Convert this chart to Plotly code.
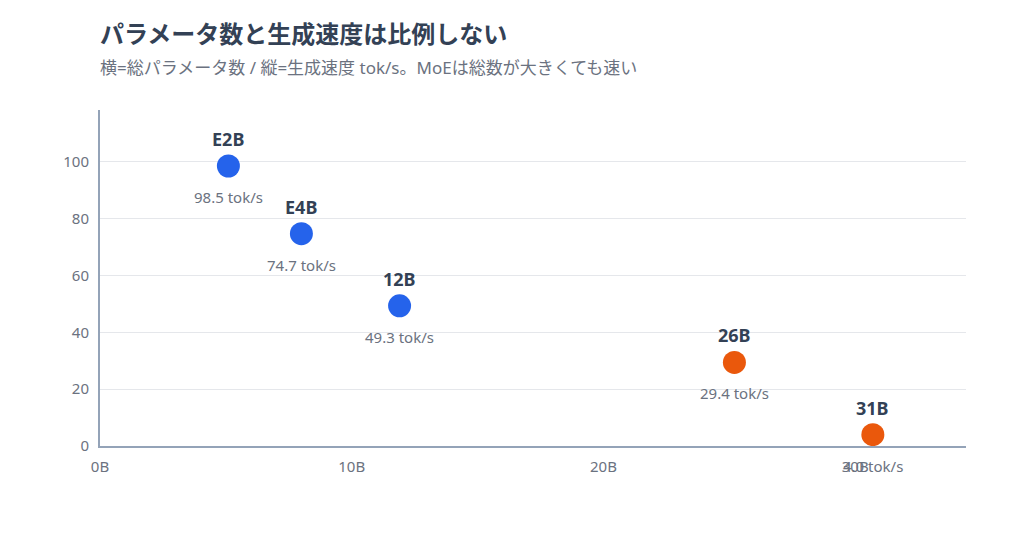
import plotly.graph_objects as go

models = ["E2B", "E4B", "12B", "26B", "31B"]
total_params_b = [5.1, 8.0, 11.9, 25.2, 30.7]
tok_per_s = [98.5, 74.7, 49.3, 29.4, 4.0]
is_moe = [False, False, False, True, True]

x_ticks = [0, 10, 20, 30]
x_tick_labels = ["0B", "10B", "20B", "30B"]
y_ticks = [0, 20, 40, 60, 80, 100]

BLUE = "#2563eb"
ORANGE = "#ea580c"
FONT = "Noto Sans, Noto Sans CJK JP, sans-serif"

colors = [ORANGE if m else BLUE for m in is_moe]

fig = go.Figure()
fig.add_trace(go.Scatter(
    x=total_params_b, y=tok_per_s, mode="markers",
    marker=dict(size=23, color=colors),
    hoverinfo="skip", showlegend=False,
))

# model name above, speed below each point
for name, x, y in zip(models, total_params_b, tok_per_s):
    fig.add_annotation(x=x, y=y, text="<b>" + name + "</b>", showarrow=False,
                       yshift=27, font=dict(size=18, color="#334155", family=FONT))
    fig.add_annotation(x=x, y=y, text=f"{y:.1f} tok/s", showarrow=False,
                       yshift=-31, font=dict(size=15, color="#6b7280", family=FONT))

# page body has an 8px margin, so margins are shifted by 8
fig.update_layout(
    width=1024, height=540,
    margin=dict(l=92, r=66, t=102, b=102),
    paper_bgcolor="white", plot_bgcolor="white",
    font=dict(family=FONT, color="#6b7280", size=15),
    title=dict(
        text="<b>パラメータ数と生成速度は比例しない</b>"
             "<br><span style='font-size:17px;color:#6b7280'>"
             "横=総パラメータ数 / 縦=生成速度 tok/s。MoEは総数が大きくても速い</span>",
        x=92 / 1024, xanchor="left", y=0.935, yanchor="top",
        font=dict(size=24, color="#334155", family=FONT),
    ),
)
fig.update_xaxes(
    range=[0, 34.4], tickvals=x_ticks, ticktext=x_tick_labels,
    showgrid=False, zeroline=False, showline=True, linecolor="#94a3b8", linewidth=2,
    ticklabelstandoff=6, tickfont=dict(size=15, color="#6b7280"),
)
fig.update_yaxes(
    range=[0, 118.2], tickvals=y_ticks,
    showgrid=True, gridcolor="#e5e7eb", zeroline=False,
    showline=True, linecolor="#94a3b8", linewidth=2,
    ticklabelstandoff=6, tickfont=dict(size=15, color="#6b7280"),
)

fig.write_html("out.html")
